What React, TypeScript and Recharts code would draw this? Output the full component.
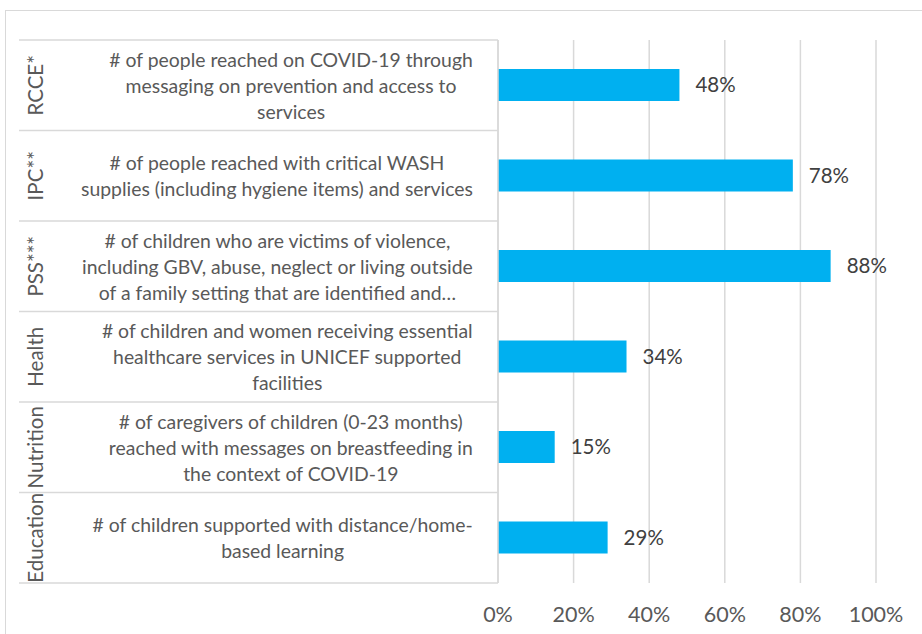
import React from 'react';
import { BarChart, Bar, XAxis, YAxis, CartesianGrid, LabelList } from 'recharts';

const groups = ['RCCE*', 'IPC**', 'PSS***', 'Health', 'Nutrition', 'Education'];

const indicators = [
  '# of people reached on COVID-19 through\nmessaging on prevention and access to\nservices',
  '# of people reached with critical WASH\nsupplies (including hygiene items) and services',
  '# of children who are victims of violence,\nincluding GBV, abuse, neglect or living outside\nof a family setting that are identified and…',
  '# of children and women receiving essential\nhealthcare services in UNICEF supported\nfacilities',
  '# of caregivers of children (0-23 months)\nreached with messages on breastfeeding in\nthe context of COVID-19',
  '# of children supported with distance/home-\nbased learning',
];

const achieved = [48, 78, 88, 34, 15, 29];

const xTicks = [0, 20, 40, 60, 80, 100];

const data = groups.map((g, i) => ({ group: g, indicator: indicators[i], value: achieved[i] }));

const W = 922;
const H = 634;
const PLOT_TOP = 40;
const PLOT_BOTTOM = 583;
const PLOT_LEFT = 498;
const PLOT_RIGHT = 876;
const BAND = (PLOT_BOTTOM - PLOT_TOP) / groups.length;
const FONT = 'Lato, "Open Sans", sans-serif';
const LABEL_SIZE = 19.4;
const GROUP_SIZE = 20.5;
const LINE_H = 26;
const TEXT_RIGHT = 473;
const GRID = '#d9d9d9';

let ctx: CanvasRenderingContext2D | null = null;
const measure = (s: string) => {
  if (!ctx) ctx = document.createElement('canvas').getContext('2d');
  if (!ctx) return s.length * LABEL_SIZE * 0.5;
  ctx.font = `${LABEL_SIZE}px Lato`;
  return ctx.measureText(s).width;
};

const CategoryTick = (props: any) => {
  const { y, index } = props;
  const row = data[index];
  if (!row) return null;
  const lines = row.indicator.split('\n');
  const blockW = Math.max(...lines.map(measure));
  const cx = TEXT_RIGHT - blockW / 2;
  const top = y - BAND / 2;
  const first = y - ((lines.length - 1) * LINE_H) / 2;
  return (
    <g>
      <line x1={19} x2={PLOT_LEFT} y1={top} y2={top} stroke={GRID} strokeWidth={1.5} />
      {index === data.length - 1 && (
        <line x1={19} x2={PLOT_LEFT} y1={top + BAND} y2={top + BAND} stroke={GRID} strokeWidth={1.5} />
      )}
      <text
        x={35}
        y={y}
        transform={`rotate(-90 35 ${y})`}
        textAnchor="middle"
        dominantBaseline="central"
        fill="#595959"
        fontSize={GROUP_SIZE}
        fontFamily={FONT}
      >
        {row.group}
      </text>
      {lines.map((ln: string, i: number) => (
        <text
          key={i}
          x={cx}
          y={first + i * LINE_H}
          textAnchor="middle"
          dominantBaseline="central"
          fill="#595959"
          fontSize={LABEL_SIZE}
          fontFamily={FONT}
        >
          {ln}
        </text>
      ))}
    </g>
  );
};

export default function App() {
  return (
    <div
      style={{
        position: 'fixed',
        left: 0,
        top: 0,
        width: W,
        height: H,
        overflow: 'hidden',
        background: '#fff',
      }}
    >
      <div
        style={{
          position: 'absolute',
          left: 5,
          top: 10,
          width: 940,
          height: 660,
          border: `1.5px solid ${GRID}`,
        }}
      />
      <div style={{ position: 'absolute', left: 0, top: 0 }}>
        <BarChart
          width={W}
          height={H}
          data={data}
          layout="vertical"
          margin={{ top: PLOT_TOP, right: W - PLOT_RIGHT, bottom: 0, left: 0 }}
          barSize={32}
        >
          <CartesianGrid horizontal={false} stroke={GRID} strokeWidth={1.5} />
          <XAxis
            type="number"
            domain={[0, 100]}
            ticks={xTicks}
            tickFormatter={(v: number) => `${v}%`}
            axisLine={false}
            tickLine={false}
            tickMargin={18}
            height={H - PLOT_BOTTOM}
            tick={{ fill: '#595959', fontSize: 21.5, fontFamily: FONT }}
            interval={0}
          />
          <YAxis
            type="category"
            dataKey="group"
            width={PLOT_LEFT}
            axisLine={{ stroke: GRID, strokeWidth: 1.5 }}
            tickLine={false}
            tick={<CategoryTick />}
            interval={0}
          />
          <Bar dataKey="value" fill="#00b0f0" isAnimationActive={false}>
            <LabelList
              dataKey="value"
              position="right"
              offset={16}
              formatter={(v: any) => `${v}%`}
              fill="#404040"
              fontSize={20.5}
              fontFamily={FONT}
            />
          </Bar>
        </BarChart>
      </div>
    </div>
  );
}
